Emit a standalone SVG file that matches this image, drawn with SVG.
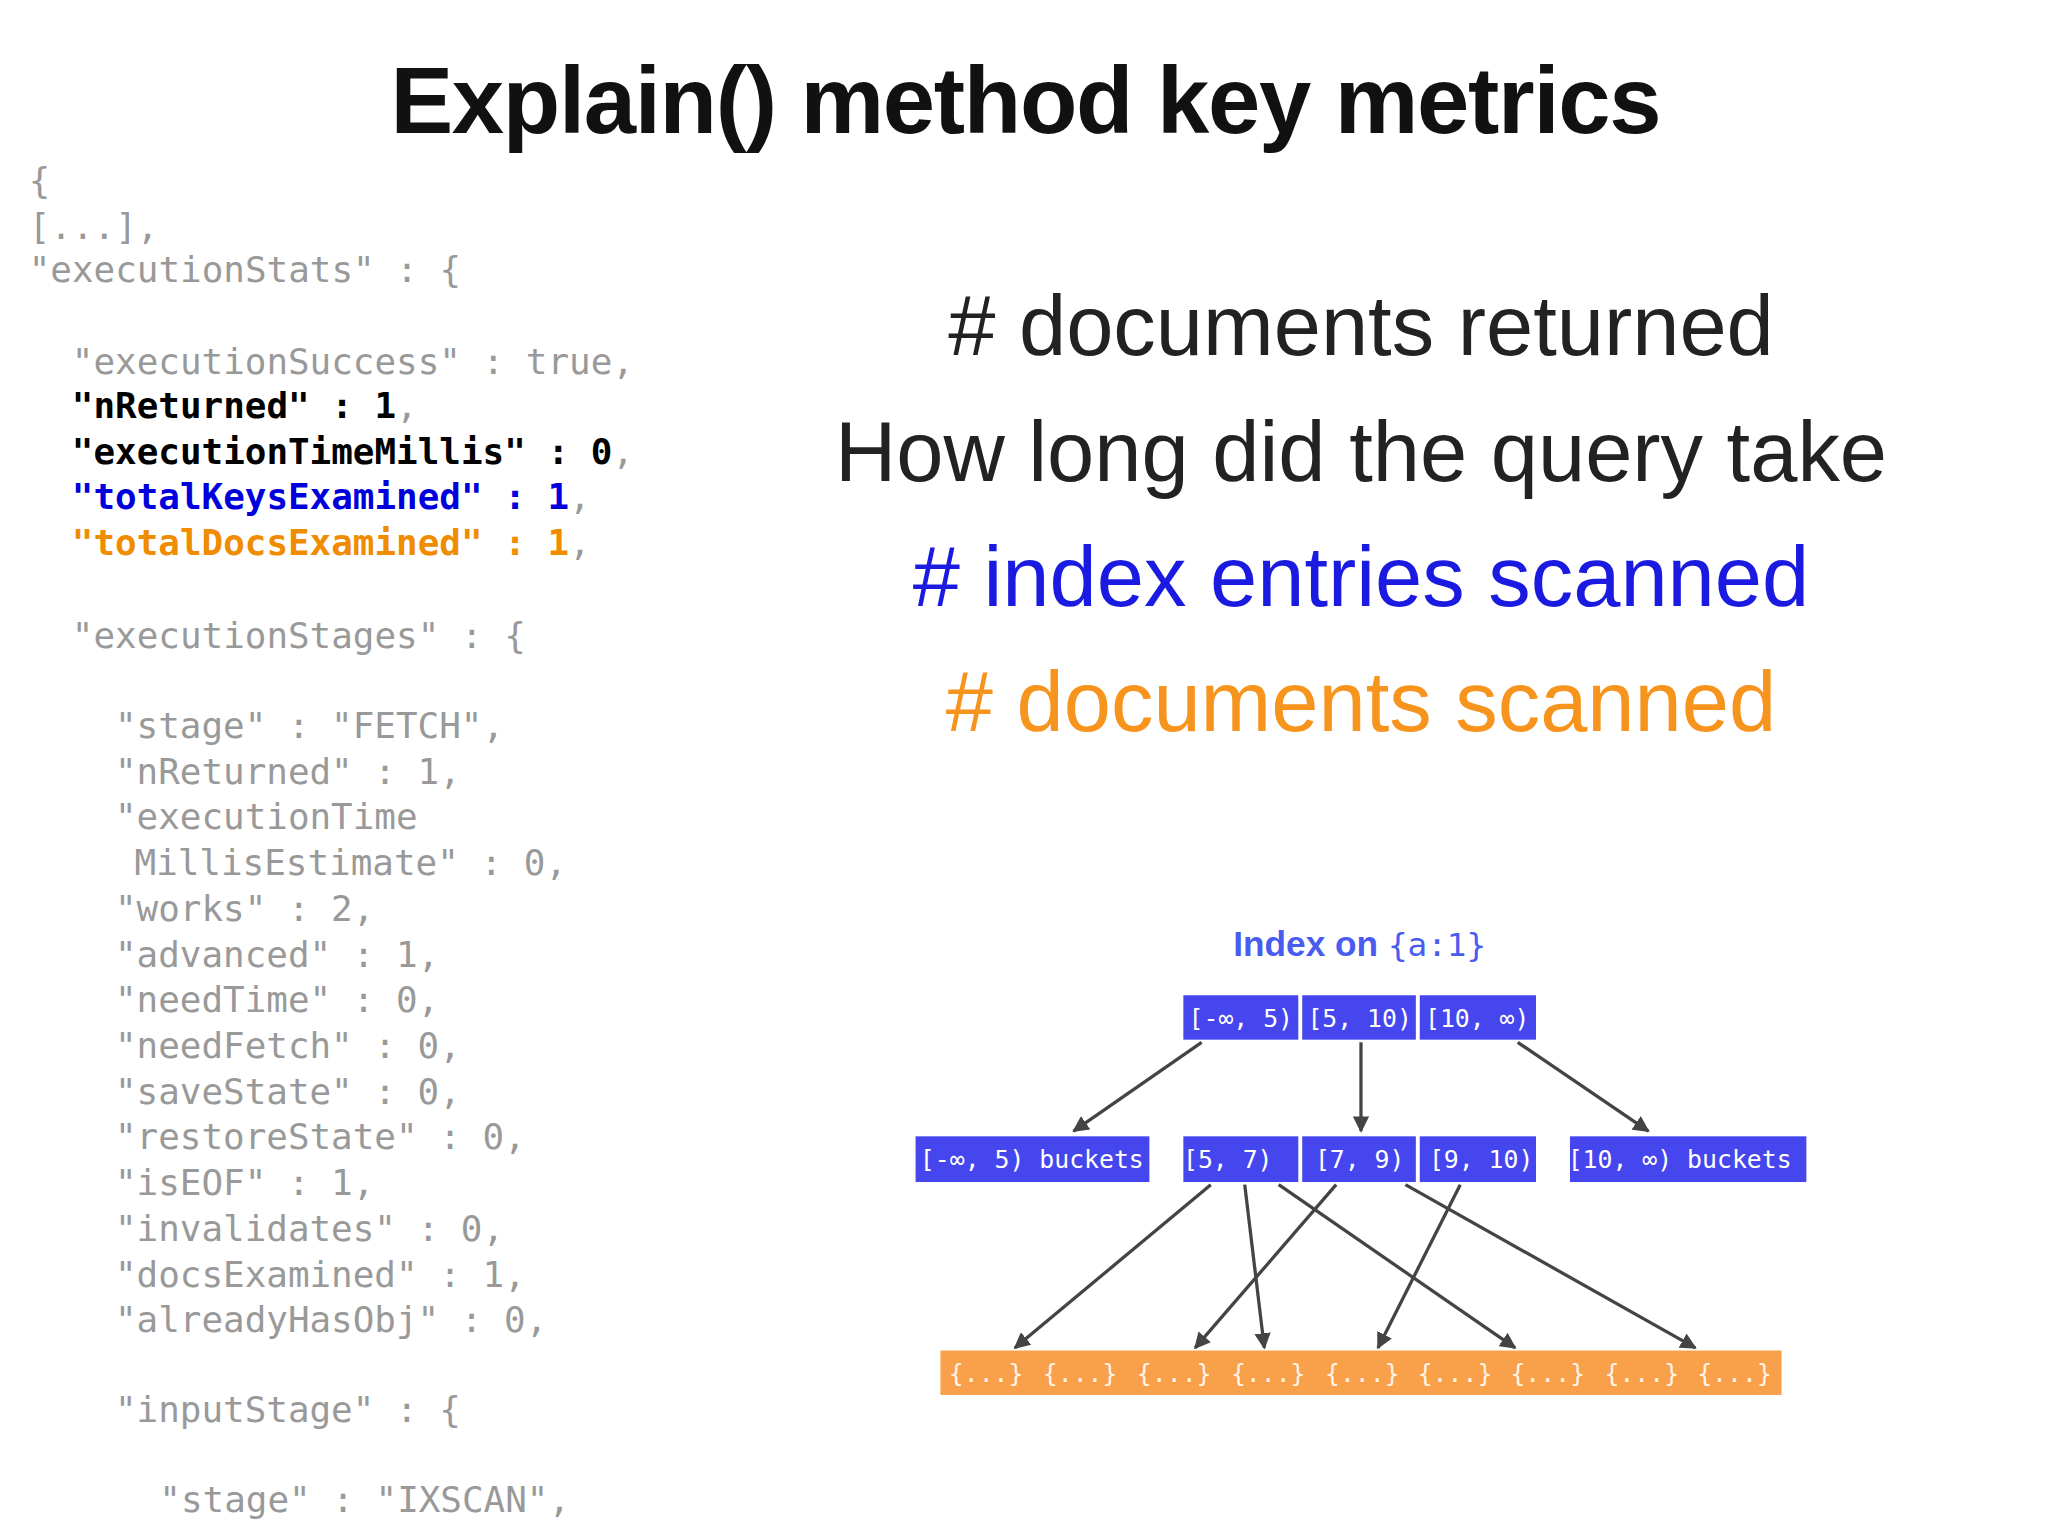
<svg xmlns="http://www.w3.org/2000/svg" width="2048" height="1536" viewBox="0 0 2048 1536">
<style>
.c{font-family:"DejaVu Sans Mono","Liberation Mono",monospace;font-size:27.5px;fill:#999}
.b{font-weight:bold}
.r{font-family:"Liberation Sans",Arial,sans-serif;font-size:65px;text-anchor:middle}
.bx{fill:#4646ee}
.bt{font-family:"DejaVu Sans Mono",monospace;font-size:19px;fill:#fff;text-anchor:middle}
.a{stroke:#444;stroke-width:2.5;fill:none;marker-end:url(#ah)}
</style>
<defs><marker id="ah" viewBox="0 0 10 10" refX="9" refY="5" markerWidth="5" markerHeight="5" orient="auto"><path d="M0,0L10,5L0,10z" fill="#444"/></marker></defs>
<rect width="2048" height="1536" fill="#fff"/>
<g transform="scale(1.30612)">
<text x="785" y="102" font-family="Liberation Sans,Arial,sans-serif" font-weight="bold" font-size="72" text-anchor="middle" letter-spacing="-1" fill="#111">Explain() method key metrics</text>
<g id="code">
<text class="c" x="22" y="148">{</text>
<text class="c" x="22" y="183">[...],</text>
<text class="c" x="22" y="216">"executionStats" : {</text>
<text class="c" x="55" y="286">"executionSuccess" : true,</text>
<text class="c" x="55" y="320"><tspan class="b" fill="#000">"nReturned" : 1</tspan>,</text>
<text class="c" x="55" y="355"><tspan class="b" fill="#000">"executionTimeMillis" : 0</tspan>,</text>
<text class="c" x="55" y="390"><tspan class="b" fill="#0000dd">"totalKeysExamined" : 1</tspan>,</text>
<text class="c" x="55" y="425"><tspan class="b" fill="#f08c00">"totalDocsExamined" : 1</tspan>,</text>
<text class="c" x="55" y="496">"executionStages" : {</text>
<text class="c" x="88" y="565">"stage" : "FETCH",</text>
<text class="c" x="88" y="600">"nReturned" : 1,</text>
<text class="c" x="88" y="635">"executionTime</text>
<text class="c" x="103" y="670">MillisEstimate" : 0,</text>
<text class="c" x="88" y="705">"works" : 2,</text>
<text class="c" x="88" y="740">"advanced" : 1,</text>
<text class="c" x="88" y="775">"needTime" : 0,</text>
<text class="c" x="88" y="810">"needFetch" : 0,</text>
<text class="c" x="88" y="845">"saveState" : 0,</text>
<text class="c" x="88" y="880">"restoreState" : 0,</text>
<text class="c" x="88" y="915">"isEOF" : 1,</text>
<text class="c" x="88" y="950">"invalidates" : 0,</text>
<text class="c" x="88" y="985">"docsExamined" : 1,</text>
<text class="c" x="88" y="1020">"alreadyHasObj" : 0,</text>
<text class="c" x="88" y="1089">"inputStage" : {</text>
<text class="c" x="122" y="1158">"stage" : "IXSCAN",</text>
</g>
<g id="metrics">
<text class="r" x="1042" y="272" fill="#222"># documents returned</text>
<text class="r" x="1042" y="368" fill="#222">How long did the query take</text>
<text class="r" x="1042" y="464" fill="#1a1ae0"># index entries scanned</text>
<text class="r" x="1042" y="560" fill="#f7941d"># documents scanned</text>
</g>
<text x="1041" y="732" font-family="Liberation Sans,Arial,sans-serif" font-size="27" font-weight="bold" fill="#4a5cf0" text-anchor="middle">Index on <tspan font-family="DejaVu Sans Mono,monospace" font-weight="normal" font-size="25">{a:1}</tspan></text>
<g id="root">
<rect class="bx" x="906" y="762" width="88" height="34"/><text class="bt" x="950" y="786">[-∞, 5)</text>
<rect class="bx" x="997" y="762" width="87" height="34"/><text class="bt" x="1041" y="786">[5, 10)</text>
<rect class="bx" x="1087" y="762" width="89" height="34"/><text class="bt" x="1131" y="786">[10, ∞)</text>
</g>
<g id="mid">
<rect class="bx" x="701" y="870" width="179" height="35"/><text class="bt" x="790" y="894">[-∞, 5) buckets</text>
<rect class="bx" x="906" y="870" width="88" height="35"/><text class="bt" x="940" y="894">[5, 7)</text>
<rect class="bx" x="997" y="870" width="87" height="35"/><text class="bt" x="1041" y="894">[7, 9)</text>
<rect class="bx" x="1087" y="870" width="89" height="35"/><text class="bt" x="1134" y="894">[9, 10)</text>
<rect class="bx" x="1202" y="870" width="181" height="35"/><text class="bt" x="1286" y="894">[10, ∞) buckets</text>
</g>
<g id="docs">
<rect x="720" y="1034" width="644" height="34" fill="#f9a04b"/>
<text class="bt" y="1058" style="fill:#fff4e6"><tspan x="755">{...}</tspan><tspan x="827">{...}</tspan><tspan x="899">{...}</tspan><tspan x="971">{...}</tspan><tspan x="1043">{...}</tspan><tspan x="1114">{...}</tspan><tspan x="1185">{...}</tspan><tspan x="1257">{...}</tspan><tspan x="1328">{...}</tspan></text>
</g>
<g id="connectors">
<path class="a" d="M920,798L822,866"/>
<path class="a" d="M1042,798L1042,866"/>
<path class="a" d="M1162,798L1262,866"/>
<path class="a" d="M927,907L777,1032"/>
<path class="a" d="M953,907L968,1032"/>
<path class="a" d="M1023,907L915,1032"/>
<path class="a" d="M979,907L1160,1032"/>
<path class="a" d="M1118,907L1055,1032"/>
<path class="a" d="M1076,907L1298,1032"/>
</g>
</g>
</svg>
